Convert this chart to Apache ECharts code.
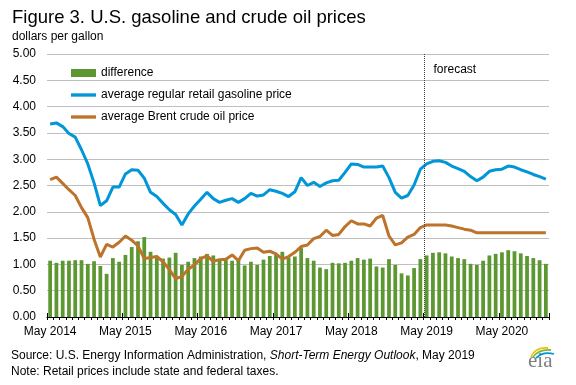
<!DOCTYPE html>
<html><head><meta charset="utf-8">
<script src="https://cdn.jsdelivr.net/npm/echarts@6/dist/echarts.min.js"></script>
<style>html,body{margin:0;padding:0;background:#fff}#c{width:576px;height:385px}</style>
</head><body><div id="c"></div>
<script>
const months = [
 'May 2014','Jun 2014','Jul 2014','Aug 2014','Sep 2014','Oct 2014','Nov 2014','Dec 2014',
 'Jan 2015','Feb 2015','Mar 2015','Apr 2015','May 2015','Jun 2015','Jul 2015','Aug 2015','Sep 2015','Oct 2015','Nov 2015','Dec 2015',
 'Jan 2016','Feb 2016','Mar 2016','Apr 2016','May 2016','Jun 2016','Jul 2016','Aug 2016','Sep 2016','Oct 2016','Nov 2016','Dec 2016',
 'Jan 2017','Feb 2017','Mar 2017','Apr 2017','May 2017','Jun 2017','Jul 2017','Aug 2017','Sep 2017','Oct 2017','Nov 2017','Dec 2017',
 'Jan 2018','Feb 2018','Mar 2018','Apr 2018','May 2018','Jun 2018','Jul 2018','Aug 2018','Sep 2018','Oct 2018','Nov 2018','Dec 2018',
 'Jan 2019','Feb 2019','Mar 2019','Apr 2019','May 2019','Jun 2019','Jul 2019','Aug 2019','Sep 2019','Oct 2019','Nov 2019','Dec 2019',
 'Jan 2020','Feb 2020','Mar 2020','Apr 2020','May 2020','Jun 2020','Jul 2020','Aug 2020','Sep 2020','Oct 2020','Nov 2020','Dec 2020'
];
const tickLabels = ['May 2014','May 2015','May 2016','May 2017','May 2018','May 2019','May 2020'];
const forecastStart = 'May 2019';

const gasoline = [
 3.67,3.69,3.62,3.49,3.42,3.18,2.91,2.55,
 2.12,2.21,2.47,2.47,2.72,2.80,2.79,2.64,2.37,2.29,2.16,2.04,
 1.95,1.75,1.96,2.11,2.24,2.37,2.25,2.18,2.22,2.25,2.18,2.25,
 2.35,2.30,2.32,2.42,2.39,2.35,2.29,2.38,2.65,2.50,2.56,2.48,
 2.55,2.59,2.60,2.75,2.91,2.90,2.85,2.85,2.85,2.87,2.65,2.37,
 2.26,2.31,2.51,2.81,2.91,2.96,2.97,2.94,2.87,2.82,2.77,2.67,
 2.59,2.66,2.77,2.80,2.81,2.87,2.85,2.80,2.76,2.71,2.67,2.62
];
const brent = [
 2.61,2.66,2.54,2.42,2.31,2.08,1.89,1.48,
 1.14,1.38,1.33,1.42,1.54,1.46,1.35,1.11,1.13,1.15,1.05,0.90,
 0.73,0.77,0.91,0.99,1.11,1.16,1.06,1.09,1.10,1.18,1.07,1.27,
 1.30,1.31,1.23,1.25,1.20,1.10,1.15,1.23,1.34,1.37,1.49,1.53,
 1.65,1.55,1.57,1.72,1.83,1.77,1.77,1.73,1.88,1.93,1.54,1.37,
 1.41,1.52,1.57,1.70,1.75,1.75,1.75,1.75,1.73,1.70,1.67,1.65,
 1.60,1.60,1.60,1.60,1.60,1.60,1.60,1.60,1.60,1.60,1.60,1.60
];
const difference = [
 1.07,1.03,1.07,1.07,1.08,1.08,1.01,1.06,
 0.97,0.82,1.12,1.05,1.18,1.33,1.44,1.52,1.24,1.13,1.11,1.13,
 1.22,0.99,1.05,1.12,1.15,1.20,1.17,1.08,1.10,1.07,1.09,0.98,
 1.05,0.99,1.09,1.16,1.18,1.24,1.13,1.15,1.31,1.12,1.07,0.94,
 0.91,1.03,1.02,1.03,1.07,1.12,1.09,1.11,0.96,0.94,1.10,0.99,
 0.83,0.79,0.93,1.10,1.17,1.22,1.23,1.21,1.15,1.12,1.10,1.01,
 0.99,1.07,1.17,1.20,1.23,1.27,1.25,1.21,1.16,1.12,1.08,1.01
];

const FONT = 'Liberation Sans, Arial, sans-serif';
const chart = echarts.init(document.getElementById('c'), null, {renderer: 'canvas'});
const isMay = (idx, val) => tickLabels.indexOf(val) >= 0;
const lineIcon = 'path://M0,0H30V4H0Z';

const option = {
  animation: false,
  backgroundColor: '#fff',
  textStyle: {fontFamily: FONT, color: '#000'},
  grid: {left: 47, right: 27, top: 54, bottom: 68, containLabel: false},
  legend: {
    orient: 'vertical', left: 71, top: 66, padding: 0,
    itemWidth: 25, itemHeight: 8, itemGap: 8,
    textStyle: {fontFamily: FONT, fontSize: 12, color: '#000', lineHeight: 14},
    data: [
      {name: 'difference', icon: 'rect'},
      {name: 'average regular retail gasoline price', icon: lineIcon},
      {name: 'average Brent crude oil price', icon: lineIcon}
    ]
  },
  xAxis: [
    {
      type: 'category', data: months, position: 'bottom', boundaryGap: true,
      axisLine: {show: true, lineStyle: {color: '#000', width: 1}},
      axisTick: {show: true, interval: 0, length: 3, lineStyle: {color: '#000'}},
      axisLabel: {show: true, interval: isMay, fontFamily: FONT, fontSize: 12, color: '#000', margin: 9},
      splitLine: {show: false}
    },
    {
      type: 'category', data: months, position: 'bottom', boundaryGap: true,
      axisLine: {show: false},
      axisTick: {show: true, inside: true, interval: isMay, length: 4, lineStyle: {color: '#000'}},
      axisLabel: {show: false},
      splitLine: {show: false}
    }
  ],
  yAxis: {
    type: 'value', min: 0, max: 5, interval: 0.5,
    axisLine: {show: false}, axisTick: {show: false},
    axisLabel: {formatter: v => v.toFixed(2), fontFamily: FONT, fontSize: 12, color: '#000', margin: 11},
    splitLine: {lineStyle: {color: '#BFBFBF', width: 1}}
  },
  series: [
    {
      name: 'difference', type: 'bar', data: difference, barWidth: '60%',
      itemStyle: {color: '#5D9732'}
    },
    {
      name: 'average regular retail gasoline price', type: 'line', data: gasoline,
      symbol: 'none', lineStyle: {color: '#0096D7', width: 3}, itemStyle: {color: '#0096D7'}
    },
    {
      name: 'average Brent crude oil price', type: 'line', data: brent,
      symbol: 'none', lineStyle: {color: '#BD732A', width: 3}, itemStyle: {color: '#BD732A'}
    }
  ]
};
chart.setOption(option);

const fi = months.indexOf(forecastStart);
const xf = (chart.convertToPixel({xAxisIndex: 0}, months[fi - 1]) + chart.convertToPixel({xAxisIndex: 0}, months[fi])) / 2;
const yTop = chart.convertToPixel({yAxisIndex: 0}, 5);
const yBot = chart.convertToPixel({yAxisIndex: 0}, 0);

chart.setOption({
  graphic: [
    {type: 'line', shape: {x1: Math.round(xf) + 0.5, y1: yTop, x2: Math.round(xf) + 0.5, y2: yBot},
     style: {stroke: '#404040', lineWidth: 1, lineDash: [1, 1]}, z: 10},
    {type: 'text', x: xf + 10, y: yTop + 16,
     style: {text: 'forecast', font: '12px ' + FONT, fill: '#000', textVerticalAlign: 'middle'}, z: 10},
    {type: 'text', x: 12, y: 18,
     style: {text: 'Figure 3. U.S. gasoline and crude oil prices', font: '18.5px ' + FONT, fill: '#000', textVerticalAlign: 'middle'}},
    {type: 'text', x: 12, y: 37,
     style: {text: 'dollars per gallon', font: '12px ' + FONT, fill: '#000', textVerticalAlign: 'middle'}},
    {type: 'text', x: 11, y: 356,
     style: {text: 'Source: U.S. Energy Information Administration, {i|Short-Term Energy Outlook}, May 2019',
       font: '12px ' + FONT, fill: '#000', textVerticalAlign: 'middle',
       rich: {i: {fontStyle: 'italic', fontFamily: FONT, fontSize: 12, fill: '#000'}}}},
    {type: 'text', x: 11, y: 372,
     style: {text: 'Note: Retail prices include state and federal taxes.', font: '12px ' + FONT, fill: '#000', textVerticalAlign: 'middle'}},
    {type: 'text', x: 528, y: 361,
     style: {text: 'eia', font: '21px Liberation Serif, serif', fill: '#7F7F7F', textVerticalAlign: 'middle'}},
    {type: 'bezierCurve', shape: {x1: 531, y1: 357, cpx1: 535, cpy1: 347, x2: 548, y2: 348},
     style: {stroke: '#F2C200', lineWidth: 1.8, fill: null}},
    {type: 'bezierCurve', shape: {x1: 533, y1: 357, cpx1: 539, cpy1: 349, x2: 551, y2: 350},
     style: {stroke: '#7AB648', lineWidth: 1.8, fill: null}},
    {type: 'bezierCurve', shape: {x1: 536, y1: 358, cpx1: 543, cpy1: 351, x2: 554, y2: 354},
     style: {stroke: '#0096D7', lineWidth: 1.8, fill: null}}
  ]
});
</script>
</body></html>
